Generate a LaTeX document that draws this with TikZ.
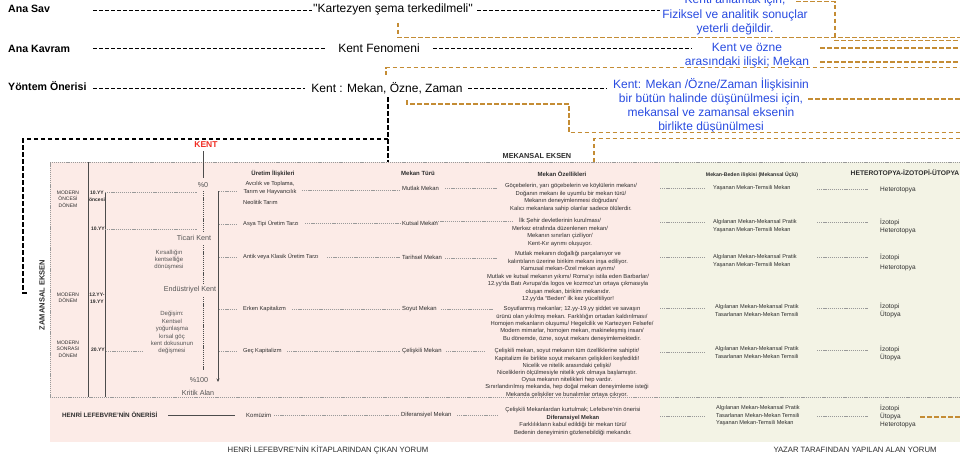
\documentclass[tikz,border=0pt]{standalone}
\usepackage{fontspec}
\setmainfont{Liberation Sans}
\usetikzlibrary{arrows.meta}
\definecolor{blu}{RGB}{40,75,225}
\definecolor{org}{RGB}{196,140,52}
\definecolor{pinkbg}{RGB}{252,235,231}
\definecolor{greenbg}{RGB}{243,243,229}
\definecolor{txt}{RGB}{45,45,45}
\definecolor{gtx}{RGB}{85,85,85}
\definecolor{kred}{RGB}{240,45,35}
\newcommand\myfs[2]{\fontsize{#1}{#2}\selectfont}
\begin{document}
\begin{tikzpicture}[x=1pt,y=-1pt,
  lbl/.style={font=\bfseries\myfs{10.6}{12},anchor=base west,inner sep=0pt},
  big/.style={font=\myfs{12}{14},anchor=base,inner sep=0pt},
  bt/.style={font=\myfs{12}{14.3},text=blu,align=center,anchor=base,inner sep=0pt},
  bl/.style={draw=black,dash pattern=on 4pt off 2pt,line width=0.9pt},
  bl2/.style={draw=black,dash pattern=on 4.5pt off 2.5pt,line width=1.1pt},
  ol/.style={draw=org,dash pattern=on 4.5pt off 2.5pt,line width=1.2pt},
  dt/.style={draw=gray!80,dash pattern=on 1.2pt off 0.9pt,line width=0.5pt},
  rl/.style={draw=gray!60!black,line width=0.6pt},
  tt/.style={font=\myfs{5.8}{7.4},text=txt,align=center,anchor=base,inner sep=0pt},
  tl/.style={font=\myfs{5.7}{7.4},text=txt,align=left,anchor=base west,inner sep=0pt},
  mb/.style={font=\myfs{5.6}{7.5},text=txt,align=left,anchor=base west,inner sep=0pt},
  ht/.style={font=\myfs{6.5}{8},text=txt,align=left,anchor=base west,inner sep=0pt},
  hd/.style={font=\bfseries\myfs{6}{7},text=txt,anchor=base,inner sep=0pt},
  sm/.style={font=\myfs{5}{6.3},text=txt,align=center,anchor=base,inner sep=0pt},
  smb/.style={font=\bfseries\myfs{5}{7},text=txt,align=center,anchor=base,inner sep=0pt},
  kt/.style={font=\myfs{7.2}{8},text=gtx,anchor=base,inner sep=0pt},
  ks/.style={font=\myfs{6}{7},text=gtx,align=center,anchor=base,inner sep=0pt}
]
\useasboundingbox (0,0) rectangle (960,460);
\fill[white] (0,0) rectangle (960,460);

% backgrounds
\fill[pinkbg] (50,162) rectangle (660,442);
\fill[greenbg] (660,162) rectangle (960,442);

% ---------- top part ----------
\node[lbl] (anasav) at (8,12.5) {Ana Sav};
\node[lbl] (anakav) at (8,52.5) {Ana Kavram};
\node[lbl] (yontem) at (8,90) {Yöntem Önerisi};

\node[big] (kart) at (393,12.5) {\textquotesingle\textquotesingle Kartezyen şema terkedilmeli\textquotesingle\textquotesingle};
\node[big] (fenom) at (379,52.5) {Kent Fenomeni};
\node[big] (kmoz) at (387,92.5) {Kent : Mekan, Özne, Zaman};

% (multi-line nodes: base anchor = baseline of last line)
\node[bt] (b1) at (735,32.6) {Kenti anlamak için,\\Fiziksel ve analitik sonuçlar\\yeterli değildir.};
\node[bt] (b2) at (747,65.8) {Kent ve özne\\arasındaki ilişki; Mekan};
\node[bt] (b3) at (711,130.9) {Kent: Mekan /Özne/Zaman İlişkisinin\\bir bütün halinde düşünülmesi için,\\mekansal ve zamansal eksenin\\birlikte düşünülmesi};

\coordinate (s1) at (93,10);   \coordinate (e1a) at (312,10);
\coordinate (s1b) at (477,10); \coordinate (e1b) at (660,10);
\coordinate (s2) at (93,48);   \coordinate (e2a) at (326,48);
\coordinate (s2b) at (433,48); \coordinate (e2b) at (692,48);
\coordinate (s3) at (93,88);   \coordinate (e3a) at (305,88);
\coordinate (s3b) at (468,88); \coordinate (e3b) at (607,88);
\draw[bl] (s1) -- (e1a);
\draw[bl] (s1b) -- (e1b);
\draw[bl] (s2) -- (e2a);
\draw[bl] (s2b) -- (e2b);
\draw[bl] (s3) -- (e3a);
\draw[bl] (s3b) -- (e3b);

% orange connectors
\coordinate (oa) at (398,23);
\draw[ol] (oa) -- (398,37.7) -- (960,37.7);
\coordinate (ob) at (796,1.7);
\draw[ol] (ob) -- (835,1.7) -- (835,40.5) -- (960,40.5);
\coordinate (ok1) at (820,48);
\draw[ol] (ok1) -- (960,48);
\coordinate (ok2) at (820,62);
\draw[ol] (ok2) -- (960,62);
\coordinate (oc) at (386,75);
\draw[ol] (oc) -- (386,67.7) -- (960,67.7);
\coordinate (or3) at (808,99);
\draw[ol] (or3) -- (960,99);
\coordinate (od) at (407,100);
\draw[ol] (od) -- (407,104) -- (569,104) -- (569,132.5) -- (960,132.5);
\coordinate (oe) at (594,162);
\draw[ol] (oe) -- (594,138.5) -- (960,138.5);

% black dashed frame
\coordinate (kv) at (388,97);
\coordinate (ktop) at (388,162);
\draw[bl2] (kv) -- (ktop);
\draw[bl2] (388,139) -- (23,139) -- (23,293) -- (27,293);

% ---------- table ----------
\draw[dt] (960,162) -- (50,162) -- (50,397) -- (960,397);
\draw[rl] (88,162) -- (88,397);
\draw[rl] (105,192) -- (105,397);

\node[font=\bfseries\myfs{7.3}{8},text=txt,anchor=base,inner sep=0pt] (mekeks) at (537,158.5) {MEKANSAL EKSEN};
\node[font=\bfseries\myfs{7.5}{8},text=txt,rotate=90,inner sep=0pt] (zameks) at (42,295) {ZAMANSAL EKSEN};

% periods
\node[sm] (p1) at (68,207.1) {MODERN\\ÖNCESİ\\DÖNEM};
\node[sm] (p2) at (68,302.8) {MODERN\\DÖNEM};
\node[sm] (p3) at (68,357.1) {MODERN\\SONRASI\\DÖNEM};
\node[smb] (c1) at (97,201.5) {10.YY\\öncesi};
\node[smb] (c2) at (98,230.5) {10.YY};
\node[smb] (c3) at (97,303.5) {12.YY-\\19.YY};
\node[smb] (c4) at (98,351.5) {20.YY};
\draw[dt] (105,192) -- (197,192);
\draw[dt] (105,229) -- (197,229);
\draw[dt] (106,351) -- (143,351);

% kent axis
\node[font=\bfseries\myfs{8.5}{9},text=kred,anchor=base,inner sep=0pt] (kent) at (206,147) {KENT};
\node[kt] (p0) at (203,187.5) {\%0};
\node[kt] (ticari) at (194,240.5) {Ticari Kent};
\node[kt] (endus) at (190,291.5) {Endüstriyel Kent};
\node[kt] (p100) at (199,382.5) {\%100};
\node[kt] (kritik) at (198,395.5) {Kritik Alan};
\draw[rl] (203,151) -- (203,178);
\draw[dt,gray!60!black] (203,191) -- (203,232);
\draw[dt,gray!60!black] (203,245) -- (203,283);
\draw[dt,gray!60!black] (203,297) -- (203,370);
\node[ks] (kirs) at (169,268.7) {Kırsallığın\\kentselliğe\\dönüşmesi};
\node[ks,font=\myfs{6}{7.4}] (degis) at (172,352.8) {Değişim:\\Kentsel\\yoğunlaşma\\kırsal göç\\kent dokusunun\\değişmesi};
\coordinate (ar1) at (218,191);
\coordinate (ar2) at (218,382);
\draw[rl,-{Stealth[length=3.5pt,width=3pt]}] (ar1) -- (ar2);
\foreach \yy in {191,224,257,309,351} \draw[dt] (219,\yy) -- (236,\yy);

% headers
\node[hd] (h1) at (273,175) {Üretim İlişkileri};
\node[hd] (h2) at (418,175) {Mekan Türü};
\node[hd] (h3) at (562,176) {Mekan Özellikleri};
\node[font=\bfseries\myfs{5.2}{6},text=txt,anchor=base,inner sep=0pt] (h4) at (752,176.5) {Mekan-Beden ilişkisi (Mekansal Üçlü)};
\node[font=\bfseries\myfs{6.7}{7},text=txt,anchor=base,inner sep=0pt] (h5) at (905,175.5) {HETEROTOPYA-İZOTOPİ-ÜTOPYA};

% uretim
\node[tt,font=\myfs{5.7}{8}] (u1) at (270,193.7) {Avcılık ve Toplama,\\Tarım ve Hayvancılık};
\node[tl] (u1b) at (243,204.7) {Neolitik Tarım};
\node[tl] (u2) at (243,225) {Asya Tipi Üretim Tarzı};
\node[tl] (u3) at (243,258.5) {Antik veya Klasik Üretim Tarzı};
\node[tl] (u4) at (243,310.5) {Erken Kapitalizm};
\node[tl] (u5) at (243,352.5) {Geç Kapitalizm};

% mekan turu
\node[tl,font=\myfs{5.9}{7}] (m1) at (402,190) {Mutlak Mekan};
\node[tl,font=\myfs{5.9}{7}] (m2) at (402,225.7) {Kutsal Mekan};
\node[tl,font=\myfs{5.9}{7}] (m3) at (402,259.5) {Tarihsel Mekan};
\node[tl,font=\myfs{5.9}{7}] (m4) at (402,310.8) {Soyut Mekan};
\node[tl,font=\myfs{5.9}{7}] (m5) at (402,352.7) {Çelişkili Mekan};
\node[tl,font=\myfs{5.9}{7}] (m6) at (401,416.8) {Diferansiyel Mekan};

\draw[dt] (302,190) -- (400,190);
\draw[dt] (305,223) -- (400,223);
\draw[dt] (327,257) -- (400,257);
\draw[dt] (292,309) -- (400,309);
\draw[dt] (287,351) -- (400,351);

% ozellikler
\node[tt] (o1) at (571,210) {Göçebelerin, yarı göçebelerin ve köylülerin mekanı/\\Doğanın mekanı ile uyumlu bir mekan türü/\\Mekanın deneyimlenmesi doğrudan/\\Kalıcı mekanlara sahip olanlar sadece ölülerdir.};
\node[tt] (o2) at (560,245) {İlk Şehir devletlerinin kurulması/\\Merkez etrafında düzenlenen mekan/\\Mekanın sınırları çiziliyor/\\Kent-Kır ayrımı oluşuyor.};
\node[tt,font=\myfs{5.8}{7.5}] (o3) at (568,300.8) {Mutlak mekanın doğallığı parçalanıyor ve\\kalıntıların üzerine birikim mekanı inşa ediliyor.\\Kamusal mekan-Özel mekan ayrımı/\\Mutlak ve kutsal mekanın yıkımı/ Roma'yı istila eden Barbarlar/\\12.yy'da Batı Avrupa'da logos ve kozmoz'un ortaya çıkmasıyla\\oluşan mekan, birikim mekanıdır.\\12.yy'da ``Beden'' ilk kez yüceltiliyor!};
\node[tt,font=\myfs{5.8}{7.3}] (o4) at (572,340) {Soyutlanmış mekanlar; 12.yy-19.yy şiddet ve savaşın\\ürünü olan yıkılmış mekan. Farklılığın ortadan kaldırılması/\\Homojen mekanların oluşumu/ Hegelcilik ve Kartezyen Felsefe/\\Modern mimarlar, homojen mekan, makineleşmiş insan/\\Bu dönemde, özne, soyut mekanı deneyimlemektedir.};
\node[tt,font=\myfs{5.8}{7.2}] (o5) at (567,396) {Çelişkili mekan, soyut mekanın tüm özelliklerine sahiptir/\\Kapitalizm ile birlikte soyut mekanın çelişkileri keşfedildi!\\Nicelik ve nitelik arasındaki çelişki/\\Niceliklerin ölçülmesiyle nitelik yok olmaya başlamıştır.\\Oysa mekanın nitelikleri hep vardır.\\Sınırlandırılmış mekanda, hep doğal mekan deneyimleme isteği\\Mekanda çelişkiler ve bunalımlar ortaya çıkıyor.};
\node[tt] (o6) at (573,434) {Çelişkili Mekanlardan kurtulmak; Lefebvre'nin önerisi\\\textbf{Diferansiyel Mekan}\\Farklılıkların kabul edildiği bir mekan türü/\\Bedenin deneyiminin gözlenebildiği mekandır.};

\draw[dt] (445,188) -- (497,188);
\draw[dt] (434,221) -- (513,221);
\draw[dt] (445,258) -- (497,258);
\draw[dt] (441,309) -- (493,309);
\draw[dt] (446,351) -- (485,351);
\draw[dt] (457,415) -- (497,415);

% mekan-beden
\foreach \yy in {188,222,257,308,352,416} \draw[dt] (660,\yy) -- (706,\yy);
\node[mb] (r1) at (713,189.8) {Yaşanan Mekan-Temsili Mekan};
\node[mb] (r2) at (713,231.3) {Algılanan Mekan-Mekansal Pratik\\Yaşanan Mekan-Temsili Mekan};
\node[mb,font=\myfs{5.6}{8}] (r3) at (713,266.8) {Algılanan Mekan-Mekansal Pratik\\Yaşanan Mekan-Temsili Mekan};
\node[mb,font=\myfs{5.6}{8}] (r4) at (715,316.8) {Algılanan Mekan-Mekansal Pratik\\Tasarlanan Mekan-Mekan Temsili};
\node[mb,font=\myfs{5.6}{7.2}] (r5) at (715,358) {Algılanan Mekan-Mekansal Pratik\\Tasarlanan Mekan-Mekan Temsili};
\node[mb,font=\myfs{5.6}{7.2}] (r6) at (716,424.2) {Algılanan Mekan-Mekansal Pratik\\Tasarlanan Mekan-Mekan Temsili\\Yaşanan Mekan-Temsili Mekan};

\draw[dt] (817,189) -- (868,189);
\draw[dt] (817,222) -- (868,222);
\draw[dt] (817,257) -- (868,257);
\draw[dt] (817,308) -- (868,308);
\draw[dt] (817,350) -- (868,350);
\draw[dt] (817,416) -- (868,416);
\node[ht] (t1) at (880,191) {Heterotopya};
\node[ht,font=\myfs{6.5}{8.5}] (t2) at (880,232.5) {İzotopi\\Heterotopya};
\node[ht,font=\myfs{6.5}{10}] (t3) at (880,269) {İzotopi\\Heterotopya};
\node[ht] (t4) at (880,316) {İzotopi\\Ütopya};
\node[ht] (t5) at (880,359) {İzotopi\\Ütopya};
\node[ht] (t6) at (880,426) {İzotopi\\Ütopya\\Heterotopya};
\coordinate (ot) at (920,417);
\draw[ol] (ot) -- (960,417);

% lefebvre row
\node[font=\bfseries\myfs{6.3}{7},text=txt,anchor=base west,inner sep=0pt] (henri) at (62,417.2) {HENRİ LEFEBVRE'NİN ÖNERİSİ};
\node[tl,font=\myfs{6}{7}] (kom) at (246,417.2) {Komüzim};
\draw[rl] (168,415) -- (235,415);
\draw[dt] (274,415) -- (400,415);

% footers
\node[font=\myfs{7.7}{8},text=txt,anchor=base,inner sep=0pt] (f1) at (328,452.7) {HENRİ LEFEBVRE'NİN KİTAPLARINDAN ÇIKAN YORUM};
\node[font=\myfs{7.7}{8},text=txt,anchor=base,inner sep=0pt] (f2) at (855,452.7) {YAZAR TARAFINDAN YAPILAN ALAN YORUM};
\end{tikzpicture}
\end{document}
